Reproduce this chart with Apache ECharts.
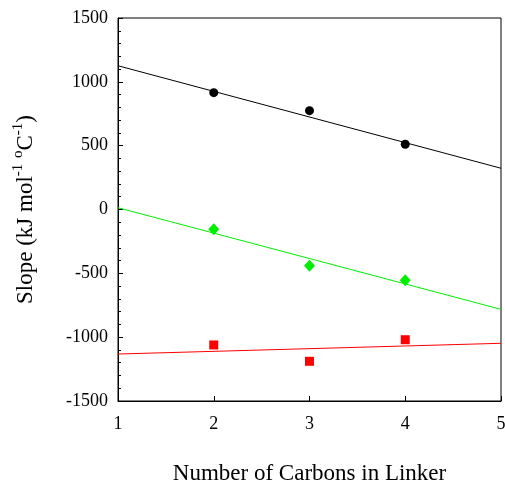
<!DOCTYPE html>
<html>
<head>
<meta charset="utf-8">
<script src="https://cdn.jsdelivr.net/npm/echarts@6/dist/echarts.min.js"></script>
<style>
html,body{margin:0;padding:0;background:#fff;}
#chart{width:505px;height:487px;}
</style>
</head>
<body>
<div id="chart"></div>
<script>
// Data
const carbons = [2, 3, 4];
const blackVals = [915, 774, 511];
const greenVals = [-155, -440, -555];
const redVals = [-1061, -1189, -1020];
const fitX = [1, 5];
const blackFit = [1126, 323];
const greenFit = [14, -782];
const redFit = [-1132, -1048];
const xTicks = [1, 2, 3, 4, 5];
const yTicks = [-1500, -1000, -500, 0, 500, 1000, 1500];

const FONT = "'Liberation Serif', 'Times New Roman', serif";
const pts = (xs, ys) => xs.map((x, i) => [x, ys[i]]);

const chart = echarts.init(document.getElementById('chart'), null, {renderer: 'canvas'});
chart.setOption({
  animation: false,
  backgroundColor: '#fff',
  grid: {left: 118, right: 4, top: 18, bottom: 86, show: true, borderColor: '#000', borderWidth: 1,
         containLabel: false, outerBoundsMode: 'none'},
  xAxis: {
    type: 'value', min: xTicks[0], max: xTicks[xTicks.length - 1], interval: 1,
    name: 'Number of Carbons in Linker', nameLocation: 'middle', nameGap: 61,
    nameTextStyle: {fontFamily: FONT, fontSize: 23, color: '#000'},
    axisLine: {show: true, onZero: false, lineStyle: {color: '#000', width: 1}},
    axisTick: {show: true, inside: true, length: 5, lineStyle: {color: '#000'}},
    axisLabel: {fontFamily: FONT, fontSize: 18, color: '#000', margin: 14, formatter: v => String(v)},
    splitLine: {show: false}
  },
  yAxis: {
    type: 'value', min: yTicks[0], max: yTicks[yTicks.length - 1], interval: 500,
    name: '{a|Slope (kJ mol}{s|-1}{a| }{s|o}{a|C}{s|-1}{a|)}',
    nameLocation: 'middle', nameGap: 81, nameRotate: 90,
    nameTextStyle: {
      fontFamily: FONT, fontSize: 23, color: '#000',
      rich: {
        a: {fontFamily: FONT, fontSize: 23, color: '#000', lineHeight: 26, verticalAlign: 'bottom'},
        s: {fontFamily: FONT, fontSize: 15, color: '#000', lineHeight: 26, verticalAlign: 'top'}
      }
    },
    axisLine: {show: true, onZero: false, lineStyle: {color: '#000', width: 1}},
    axisTick: {show: true, inside: true, length: 5, lineStyle: {color: '#000'}},
    minorTick: {show: true, splitNumber: 5, length: 3, lineStyle: {color: '#000'}},
    axisLabel: {fontFamily: FONT, fontSize: 18, color: '#000', margin: 10, formatter: v => String(v)},
    splitLine: {show: false}
  },
  series: [
    {type: 'line', data: pts(fitX, blackFit), symbol: 'none', lineStyle: {color: '#000', width: 1}, silent: true},
    {type: 'line', data: pts(fitX, greenFit), symbol: 'none', lineStyle: {color: '#00ee00', width: 1}, silent: true},
    {type: 'line', data: pts(fitX, redFit), symbol: 'none', lineStyle: {color: '#ff0000', width: 1}, silent: true},
    {type: 'scatter', data: pts(carbons, blackVals), symbol: 'circle', symbolSize: 9, itemStyle: {color: '#000', opacity: 1}},
    {type: 'scatter', data: pts(carbons, greenVals), symbol: 'diamond', symbolSize: [11, 12], itemStyle: {color: '#00ee00', opacity: 1}},
    {type: 'scatter', data: pts(carbons, redVals), symbol: 'rect', symbolSize: 9, itemStyle: {color: '#ff0000', opacity: 1}}
  ]
});
</script>
</body>
</html>
